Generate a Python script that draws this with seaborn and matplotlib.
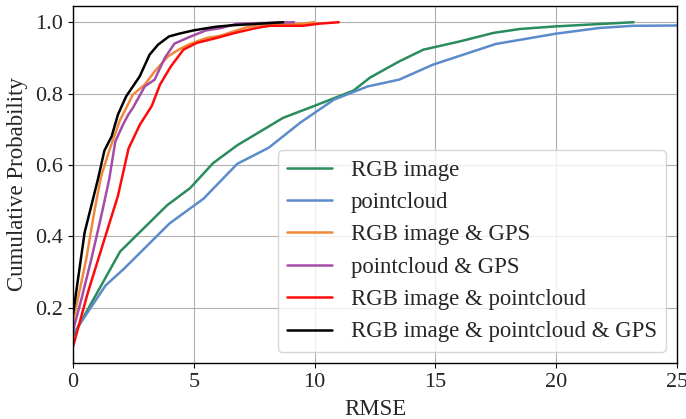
import numpy as np
import pandas as pd
import matplotlib
matplotlib.use("Agg")
import matplotlib.pyplot as plt
import seaborn as sns

labels = ["RGB image", "pointcloud", "RGB image & GPS", "pointcloud & GPS",
          "RGB image & pointcloud", "RGB image & pointcloud & GPS"]
colors = ["#2a8c5c", "#5b8bc9", "#f0893a", "#a64ca6", "#ff0a0a", "#000000"]

rgb_x = [0, 1.95, 3.9, 4.85, 5.8, 6.8, 8.7, 9.9, 11.6, 12.3, 13.5, 14.5, 16.0, 17.4, 18.5, 19.9, 23.2]
rgb_y = [0.12, 0.357, 0.487, 0.535, 0.605, 0.655, 0.732, 0.763, 0.808, 0.845, 0.89, 0.923, 0.946, 0.97, 0.981, 0.988, 1.0]

pc_x = [0, 1.35, 2.1, 4.0, 5.4, 6.8, 8.1, 9.4, 10.8, 12.2, 13.5, 14.9, 17.5, 20.0, 21.8, 23.2, 25.5]
pc_y = [0.125, 0.262, 0.308, 0.436, 0.505, 0.603, 0.648, 0.718, 0.783, 0.82, 0.839, 0.881, 0.939, 0.968, 0.984, 0.99, 0.991]

rgbgps_x = [0, 0.55, 0.9, 1.17, 1.5, 1.93, 2.48, 2.97, 3.38, 3.93, 4.37, 4.78, 5.2, 5.55, 6.1, 6.64, 7.19, 7.74, 9.5, 10.0]
rgbgps_y = [0.16, 0.336, 0.476, 0.569, 0.64, 0.723, 0.797, 0.825, 0.862, 0.904, 0.923, 0.937, 0.948, 0.956, 0.962, 0.974, 0.986, 0.993, 0.996, 1.0]

pcgps_x = [0, 0.35, 0.76, 1.17, 1.5, 1.75, 2.07, 2.29, 2.48, 2.97, 3.38, 3.8, 4.2, 4.8, 5.5, 6.15, 6.8, 9.15]
pcgps_y = [0.135, 0.224, 0.336, 0.457, 0.56, 0.665, 0.713, 0.741, 0.76, 0.82, 0.839, 0.9, 0.94, 0.958, 0.977, 0.984, 0.996, 1.0]

rgbpc_x = [0, 0.62, 1.24, 1.86, 2.3, 2.77, 3.26, 3.6, 4.05, 4.57, 5.12, 5.95, 6.7, 7.6, 8.15, 9.5, 10.2, 11.0]
rgbpc_y = [0.09, 0.243, 0.378, 0.513, 0.646, 0.713, 0.765, 0.825, 0.876, 0.923, 0.942, 0.956, 0.97, 0.984, 0.99, 0.99, 0.996, 1.0]

all_x = [0, 0.48, 1.03, 1.3, 1.6, 1.86, 2.2, 2.76, 3.17, 3.52, 3.97, 4.4, 4.98, 5.88, 6.5, 7.5, 8.7]
all_y = [0.18, 0.41, 0.559, 0.64, 0.68, 0.741, 0.792, 0.848, 0.909, 0.937, 0.96, 0.968, 0.977, 0.987, 0.991, 0.995, 1.0]

series_x = [rgb_x, pc_x, rgbgps_x, pcgps_x, rgbpc_x, all_x]
series_y = [rgb_y, pc_y, rgbgps_y, pcgps_y, rgbpc_y, all_y]

frames = []
for lab, xs, ys in zip(labels, series_x, series_y):
    frames.append(pd.DataFrame({"RMSE": xs, "CDF": ys, "method": lab}))
df = pd.concat(frames, ignore_index=True)

sns.set_style("white")
plt.rcParams["font.family"] = ["Liberation Serif", "DejaVu Serif"]

fig = plt.figure(figsize=(6.86, 4.19), dpi=100)
ax = fig.add_axes([0.1064, 0.1337, 0.8805, 0.852])

sns.lineplot(data=df, x="RMSE", y="CDF", hue="method", hue_order=labels,
             palette=colors, sort=False, estimator=None, units="method",
             linewidth=1.8, ax=ax)

ax.set_xlim(0, 25)
ax.margins(y=0.05)
ax.set_xticks([0, 5, 10, 15, 20, 25])
ax.set_yticks([0.2, 0.4, 0.6, 0.8, 1.0])
ax.grid(True, color="#b0b0b0", linewidth=0.8)
for s in ax.spines.values():
    s.set_color("black")
    s.set_linewidth(1.0)
ax.tick_params(axis="both", which="major", labelsize=16, length=3.5, width=0.8,
               color="black", bottom=True, left=True, pad=3.5)
ax.set_xlabel("RMSE", fontsize=16.5, labelpad=5.5)
ax.set_ylabel("Cumulative Probability", fontsize=16.5, labelpad=5.5)

leg = ax.legend(loc="lower right", fontsize=16.4, framealpha=0.8, title=None)
for line in leg.get_lines():
    line.set_linewidth(1.8)

fig.savefig("out.png", dpi=100)
